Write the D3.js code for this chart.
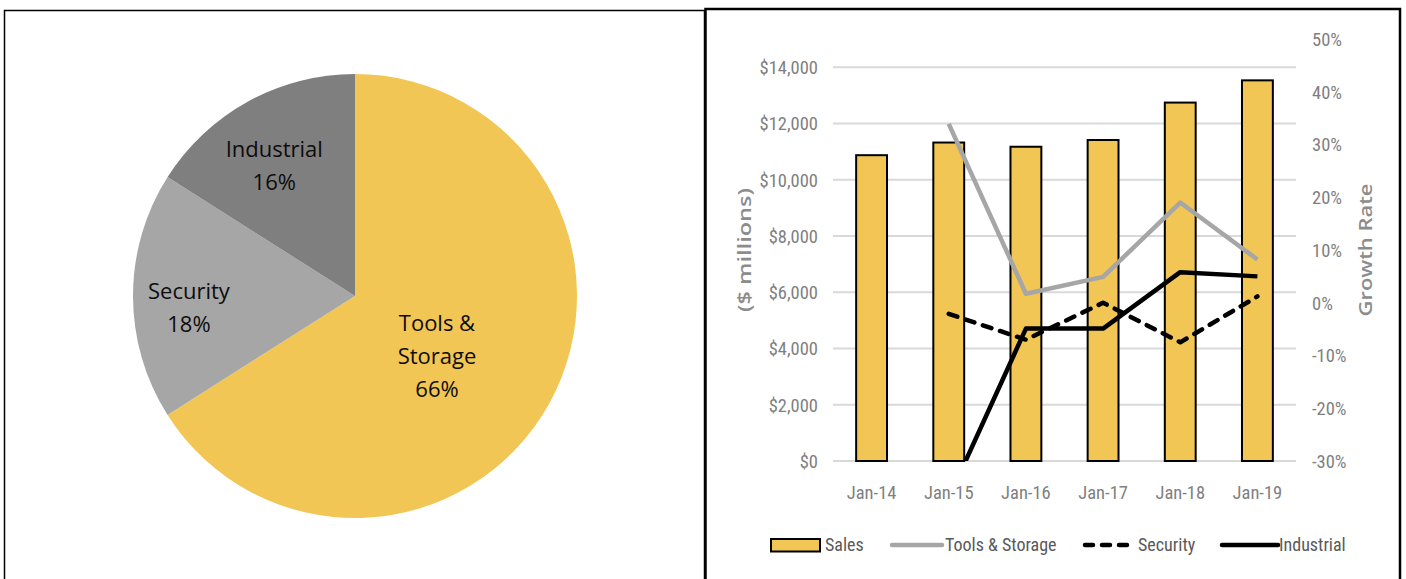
<!DOCTYPE html>
<html>
<head>
<meta charset="utf-8">
<script src="https://cdn.jsdelivr.net/npm/d3@7"></script>
<style>
  html, body { margin: 0; padding: 0; background: #fff; }
  svg { display: block; }
  .narrow { font-family: "Liberation Sans Narrow", "Arial Narrow", "Roboto Condensed", "Liberation Sans", sans-serif; }
</style>
</head>
<body>
<svg id="chart" width="1406" height="579"></svg>
<script>
// Segment mix (pie)
const segments = ["Tools & Storage", "Security", "Industrial"];
const segmentShare = [66, 18, 16];

// Annual sales and segment growth
const years = ["Jan-14", "Jan-15", "Jan-16", "Jan-17", "Jan-18", "Jan-19"];
const sales = [10870, 11320, 11170, 11410, 12740, 13530];
const toolsGrowth = [null, 33.9, 1.7, 4.9, 19.0, 8.2];
const securityGrowth = [null, -2.1, -7.0, 0.0, -7.5, 1.2];
const industrialGrowth = [null, -37.0, -4.9, -4.9, 5.8, 5.0];

const salesTicks = [0, 2000, 4000, 6000, 8000, 10000, 12000, 14000];
const growthTicks = [-30, -20, -10, 0, 10, 20, 30, 40, 50];

const YELLOW = "#F2C655";
const svg = d3.select("#chart");

// Panel frames
svg.append("rect").attr("x", 4.5).attr("y", 10.5).attr("width", 700).attr("height", 620)
  .attr("fill", "none").attr("stroke", "#000").attr("stroke-width", 1.5);
svg.append("rect").attr("x", 705.5).attr("y", 9).attr("width", 694.5).attr("height", 620)
  .attr("fill", "none").attr("stroke", "#000").attr("stroke-width", 2.5);

// ---------- Pie ----------
const pieColors = d3.scaleOrdinal().domain(segments).range([YELLOW, "#A6A6A6", "#7F7F7F"]);
const R = 222;
const pieG = svg.append("g").attr("transform", "translate(355,296)");
const pie = d3.pie().sort(null).value(d => d.v);
const arcs = pie(segments.map((s, i) => ({ name: s, v: segmentShare[i] })));
const arc = d3.arc().innerRadius(0).outerRadius(R);
pieG.selectAll("path.slice").data(arcs).join("path")
  .attr("class", "slice")
  .attr("d", arc)
  .attr("fill", d => pieColors(d.data.name));

// label placement: fraction of radius and a small angular nudge (degrees) per slice
const labelRadius = [0.46, 0.75, 0.69];
const labelNudge = [7.8, -4, -3];
const labelLines = d => {
  const pct = d.data.v + "%";
  if (d.data.name === "Tools & Storage") return ["Tools &", "Storage", pct];
  return [d.data.name, pct];
};
arcs.forEach((d, i) => {
  const rl = R * labelRadius[i];
  const mid = (d.startAngle + d.endAngle) / 2 + labelNudge[i] * Math.PI / 180;
  const c = [rl * Math.sin(mid), -rl * Math.cos(mid)];
  const lines = labelLines(d);
  const lh = 33;
  const t = pieG.append("text")
    .attr("text-anchor", "middle")
    .attr("font-family", "'Open Sans', 'Noto Sans', sans-serif")
    .attr("font-size", 22)
    .attr("fill", "#0d0d0d");
  lines.forEach((ln, j) => {
    t.append("tspan").attr("x", c[0])
      .attr("y", c[1] + (j - (lines.length - 1) / 2) * lh + 7.5)
      .text(ln);
  });
});

// ---------- Combo chart ----------
const plot = { left: 833, right: 1296, top: 39, bottom: 461 };
const x = d3.scaleBand().domain(years).range([plot.left, plot.right])
  .paddingInner(0.6).paddingOuter(0.3);
const yL = d3.scaleLinear().domain([0, 15000]).range([plot.bottom, plot.top]);
const yR = d3.scaleLinear().domain([-30, 50]).range([plot.bottom, plot.top]);
const cx = d => x(d) + x.bandwidth() / 2;

// gridlines
svg.append("g").selectAll("line").data(salesTicks).join("line")
  .attr("x1", plot.left).attr("x2", plot.right)
  .attr("y1", d => yL(d)).attr("y2", d => yL(d))
  .attr("stroke", "#D9D9D9").attr("stroke-width", 2);

// left axis
const fmtSales = d => "$" + d3.format(",")(d);
const leftAxis = svg.append("g").attr("class", "narrow")
  .attr("transform", `translate(${plot.left - 15},0)`)
  .call(d3.axisLeft(yL).tickValues(salesTicks).tickFormat(fmtSales).tickSize(0).tickPadding(0));
leftAxis.select(".domain").remove();
leftAxis.selectAll("text").attr("font-size", 18.5).attr("fill", "#7F7F7F")
  .attr("font-family", null).attr("dy", "0.35em");

// right axis
const rightAxis = svg.append("g").attr("class", "narrow")
  .attr("transform", `translate(${plot.right + 16},0)`)
  .call(d3.axisRight(yR).tickValues(growthTicks).tickFormat(d => d + "%").tickSize(0).tickPadding(0));
rightAxis.select(".domain").remove();
rightAxis.selectAll("text").attr("font-size", 18.5).attr("fill", "#7F7F7F")
  .attr("font-family", null).attr("dy", "0.35em");

// category axis
const catAxis = svg.append("g").attr("class", "narrow")
  .attr("transform", `translate(0,${plot.bottom + 25})`)
  .call(d3.axisBottom(x).tickSize(0).tickPadding(0));
catAxis.select(".domain").remove();
catAxis.selectAll("text").attr("font-size", 18.5).attr("fill", "#7F7F7F")
  .attr("font-family", null).attr("dy", "0.7em");

// axis titles
svg.append("text")
  .attr("transform", `translate(751,${(plot.top + plot.bottom) / 2}) rotate(-90)`)
  .attr("text-anchor", "middle")
  .attr("font-family", "'Open Sans', 'DejaVu Sans', sans-serif")
  .attr("font-size", 18).attr("font-weight", 600).attr("fill", "#8C8C8C")
  .attr("textLength", 124).attr("lengthAdjust", "spacingAndGlyphs")
  .text("($ millions)");
svg.append("text")
  .attr("transform", `translate(1372,${(plot.top + plot.bottom) / 2}) rotate(-90)`)
  .attr("text-anchor", "middle")
  .attr("font-family", "'Open Sans', 'DejaVu Sans', sans-serif")
  .attr("font-size", 18).attr("font-weight", 600).attr("fill", "#8C8C8C")
  .attr("textLength", 133).attr("lengthAdjust", "spacingAndGlyphs")
  .text("Growth Rate");

// bars
svg.append("g").selectAll("rect").data(years).join("rect")
  .attr("x", d => x(d))
  .attr("width", x.bandwidth())
  .attr("y", (d, i) => yL(sales[i]))
  .attr("height", (d, i) => yL(0) - yL(sales[i]))
  .attr("fill", YELLOW).attr("stroke", "#000").attr("stroke-width", 2);

// growth lines, clipped to the plot area
svg.append("clipPath").attr("id", "plotClip").append("rect")
  .attr("x", plot.left).attr("y", 0)
  .attr("width", plot.right - plot.left).attr("height", plot.bottom);

const lineGen = d3.line()
  .defined(d => d.v !== null)
  .x(d => cx(d.k)).y(d => yR(d.v));
const seriesDefs = [
  { name: "Tools & Storage", vals: toolsGrowth, color: "#A6A6A6", dash: null },
  { name: "Security", vals: securityGrowth, color: "#000", dash: "9,9" },
  { name: "Industrial", vals: industrialGrowth, color: "#000", dash: null }
];
const linesG = svg.append("g").attr("clip-path", "url(#plotClip)");
seriesDefs.forEach(s => {
  linesG.append("path")
    .datum(years.map((k, i) => ({ k, v: s.vals[i] })))
    .attr("d", lineGen)
    .attr("fill", "none")
    .attr("stroke", s.color)
    .attr("stroke-width", 4.5)
    .attr("stroke-linejoin", "round")
    .attr("stroke-linecap", s.dash ? "round" : "butt")
    .attr("stroke-dasharray", s.dash);
});

// legend
const legY = 545;
const legend = svg.append("g").attr("class", "narrow");
legend.append("rect").attr("x", 771).attr("y", legY - 6).attr("width", 49).attr("height", 12.5)
  .attr("fill", YELLOW).attr("stroke", "#000").attr("stroke-width", 2);
legend.append("text").attr("x", 825).attr("y", legY).attr("dy", "0.35em").text("Sales");
const legItems = [
  { s: seriesDefs[0], x1: 892, x2: 942, tx: 945 },
  { s: seriesDefs[1], x1: 1085, x2: 1133, tx: 1138 },
  { s: seriesDefs[2], x1: 1222, x2: 1278, tx: 1279 }
];
legItems.forEach(it => {
  legend.append("line").attr("x1", it.x1).attr("x2", it.x2).attr("y1", legY).attr("y2", legY)
    .attr("stroke", it.s.color).attr("stroke-width", 4.5)
    .attr("stroke-linecap", "round")
    .attr("stroke-dasharray", it.s.dash ? "8,9" : null);
  legend.append("text").attr("x", it.tx).attr("y", legY).attr("dy", "0.35em").text(it.s.name);
});
legend.selectAll("text").attr("font-size", 18).attr("fill", "#595959");
</script>
</body>
</html>
